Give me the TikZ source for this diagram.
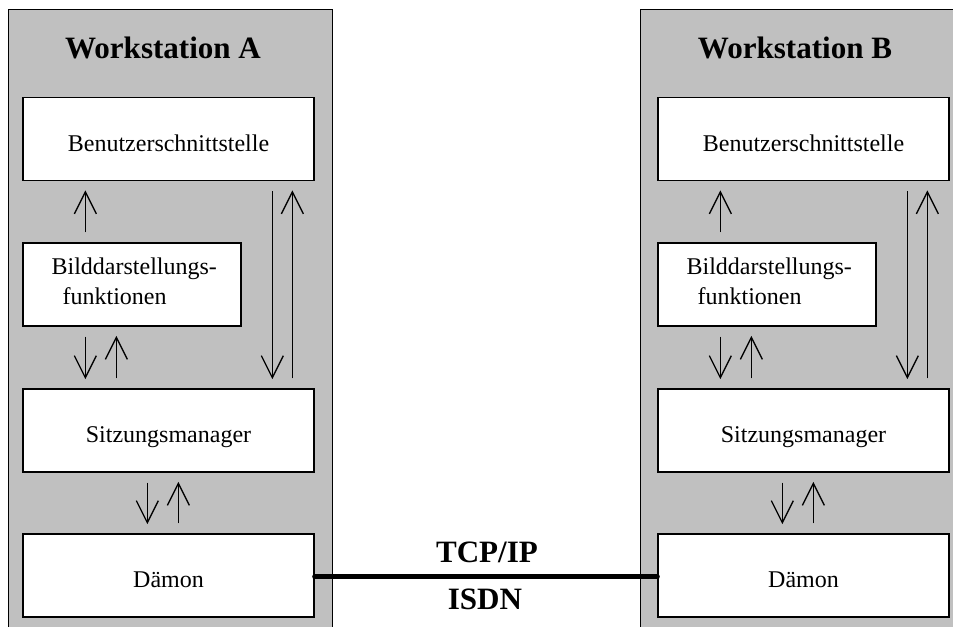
\documentclass[tikz,border=0pt]{standalone}
\usepackage{fontspec}
\setmainfont{Liberation Serif}
\usetikzlibrary{calc}
\definecolor{panelgray}{RGB}{192,192,192}
\pgfarrowsdeclare{openvee}{openvee}
{\pgfarrowsleftextend{-17pt}\pgfarrowsrightextend{0.5\pgflinewidth}}
{\pgfsetdash{}{0pt}\pgfsetmiterjoin\pgfsetbuttcap
 \pgfpathmoveto{\pgfpoint{-16.5pt}{8.25pt}}
 \pgfpathlineto{\pgfpointorigin}
 \pgfpathlineto{\pgfpoint{-16.5pt}{-8.25pt}}
 \pgfusepathqstroke}
\begin{document}
\begin{tikzpicture}[x=0.75pt,y=-0.75pt,
  panel/.style={draw=black,line width=1pt,fill=panelgray,anchor=north west,inner sep=0pt,
                minimum width=324*0.75pt,minimum height=640*0.75pt},
  box/.style={draw=black,line width=1pt,fill=white,inner sep=0pt,
              text height=18pt,text depth=0pt,font=\fontsize{18}{22.5}\selectfont},
  wide/.style={box,minimum width=291*0.75pt,minimum height=83*0.75pt},
  title/.style={font=\fontsize{23.3}{28}\selectfont\bfseries,anchor=base,inner sep=0pt},
  lbl/.style={font=\fontsize{18}{22.5}\selectfont,anchor=base west,inner sep=0pt},
  flow/.style={line width=1pt,-openvee,shorten <=7.5pt,shorten >=7.5pt},
  link/.style={line width=3.75pt,line cap=round}]
\useasboundingbox (0,0) rectangle (953,626);
\foreach \s/\dx/\px in {A/0/8,B/635/640}{
  \node[panel] (ws\s) at (\px,9) {};
  \node[title] (title\s) at (\px+155,58) {Workstation \s};
  \node[wide] (ben\s) at (168.5+\dx,139) {Benutzerschnittstelle};
  \node[box,minimum width=218*0.75pt,minimum height=83*0.75pt] (bild\s) at (132+\dx,284.5) {};
  \node[lbl] (bildt\s) at ($(bild\s.north west)+(29,32)$) {Bilddarstellungs-};
  \node[lbl] (bildu\s) at ($(bild\s.north west)+(40,62)$) {funktionen};
  \node[wide] (sitz\s) at (168.5+\dx,430.5) {Sitzungsmanager};
  \node[wide] (daem\s) at (168.5+\dx,575.5) {Dämon};
  \coordinate (c\s1) at ($(ben\s.south west)+(63,0)$);
  \coordinate (c\s2) at ($(ben\s.south west)+(94,0)$);
  \coordinate (c\s3) at ($(ben\s.south west)+(125,0)$);
  \coordinate (c\s4) at ($(ben\s.south west)+(156,0)$);
  \coordinate (c\s5) at ($(ben\s.south west)+(250,0)$);
  \coordinate (c\s6) at ($(ben\s.south west)+(270,0)$);
  \draw[flow] (bild\s.north -| c\s1) -- (ben\s.south -| c\s1);
  \draw[flow] (ben\s.south -| c\s5) -- (sitz\s.north -| c\s5);
  \draw[flow] (sitz\s.north -| c\s6) -- (ben\s.south -| c\s6);
  \draw[flow] (bild\s.south -| c\s1) -- (sitz\s.north -| c\s1);
  \draw[flow] (sitz\s.north -| c\s2) -- (bild\s.south -| c\s2);
  \draw[flow] (sitz\s.south -| c\s3) -- (daem\s.north -| c\s3);
  \draw[flow] (daem\s.north -| c\s4) -- (sitz\s.south -| c\s4);
}
\draw[link] ([yshift=-1.1pt]daemA.east) -- ([yshift=-1.1pt]daemB.west);
\node[title] (tcp) at (487,562) {TCP/IP};
\node[title] (isdn) at (485,609) {ISDN};
\end{tikzpicture}
\end{document}
